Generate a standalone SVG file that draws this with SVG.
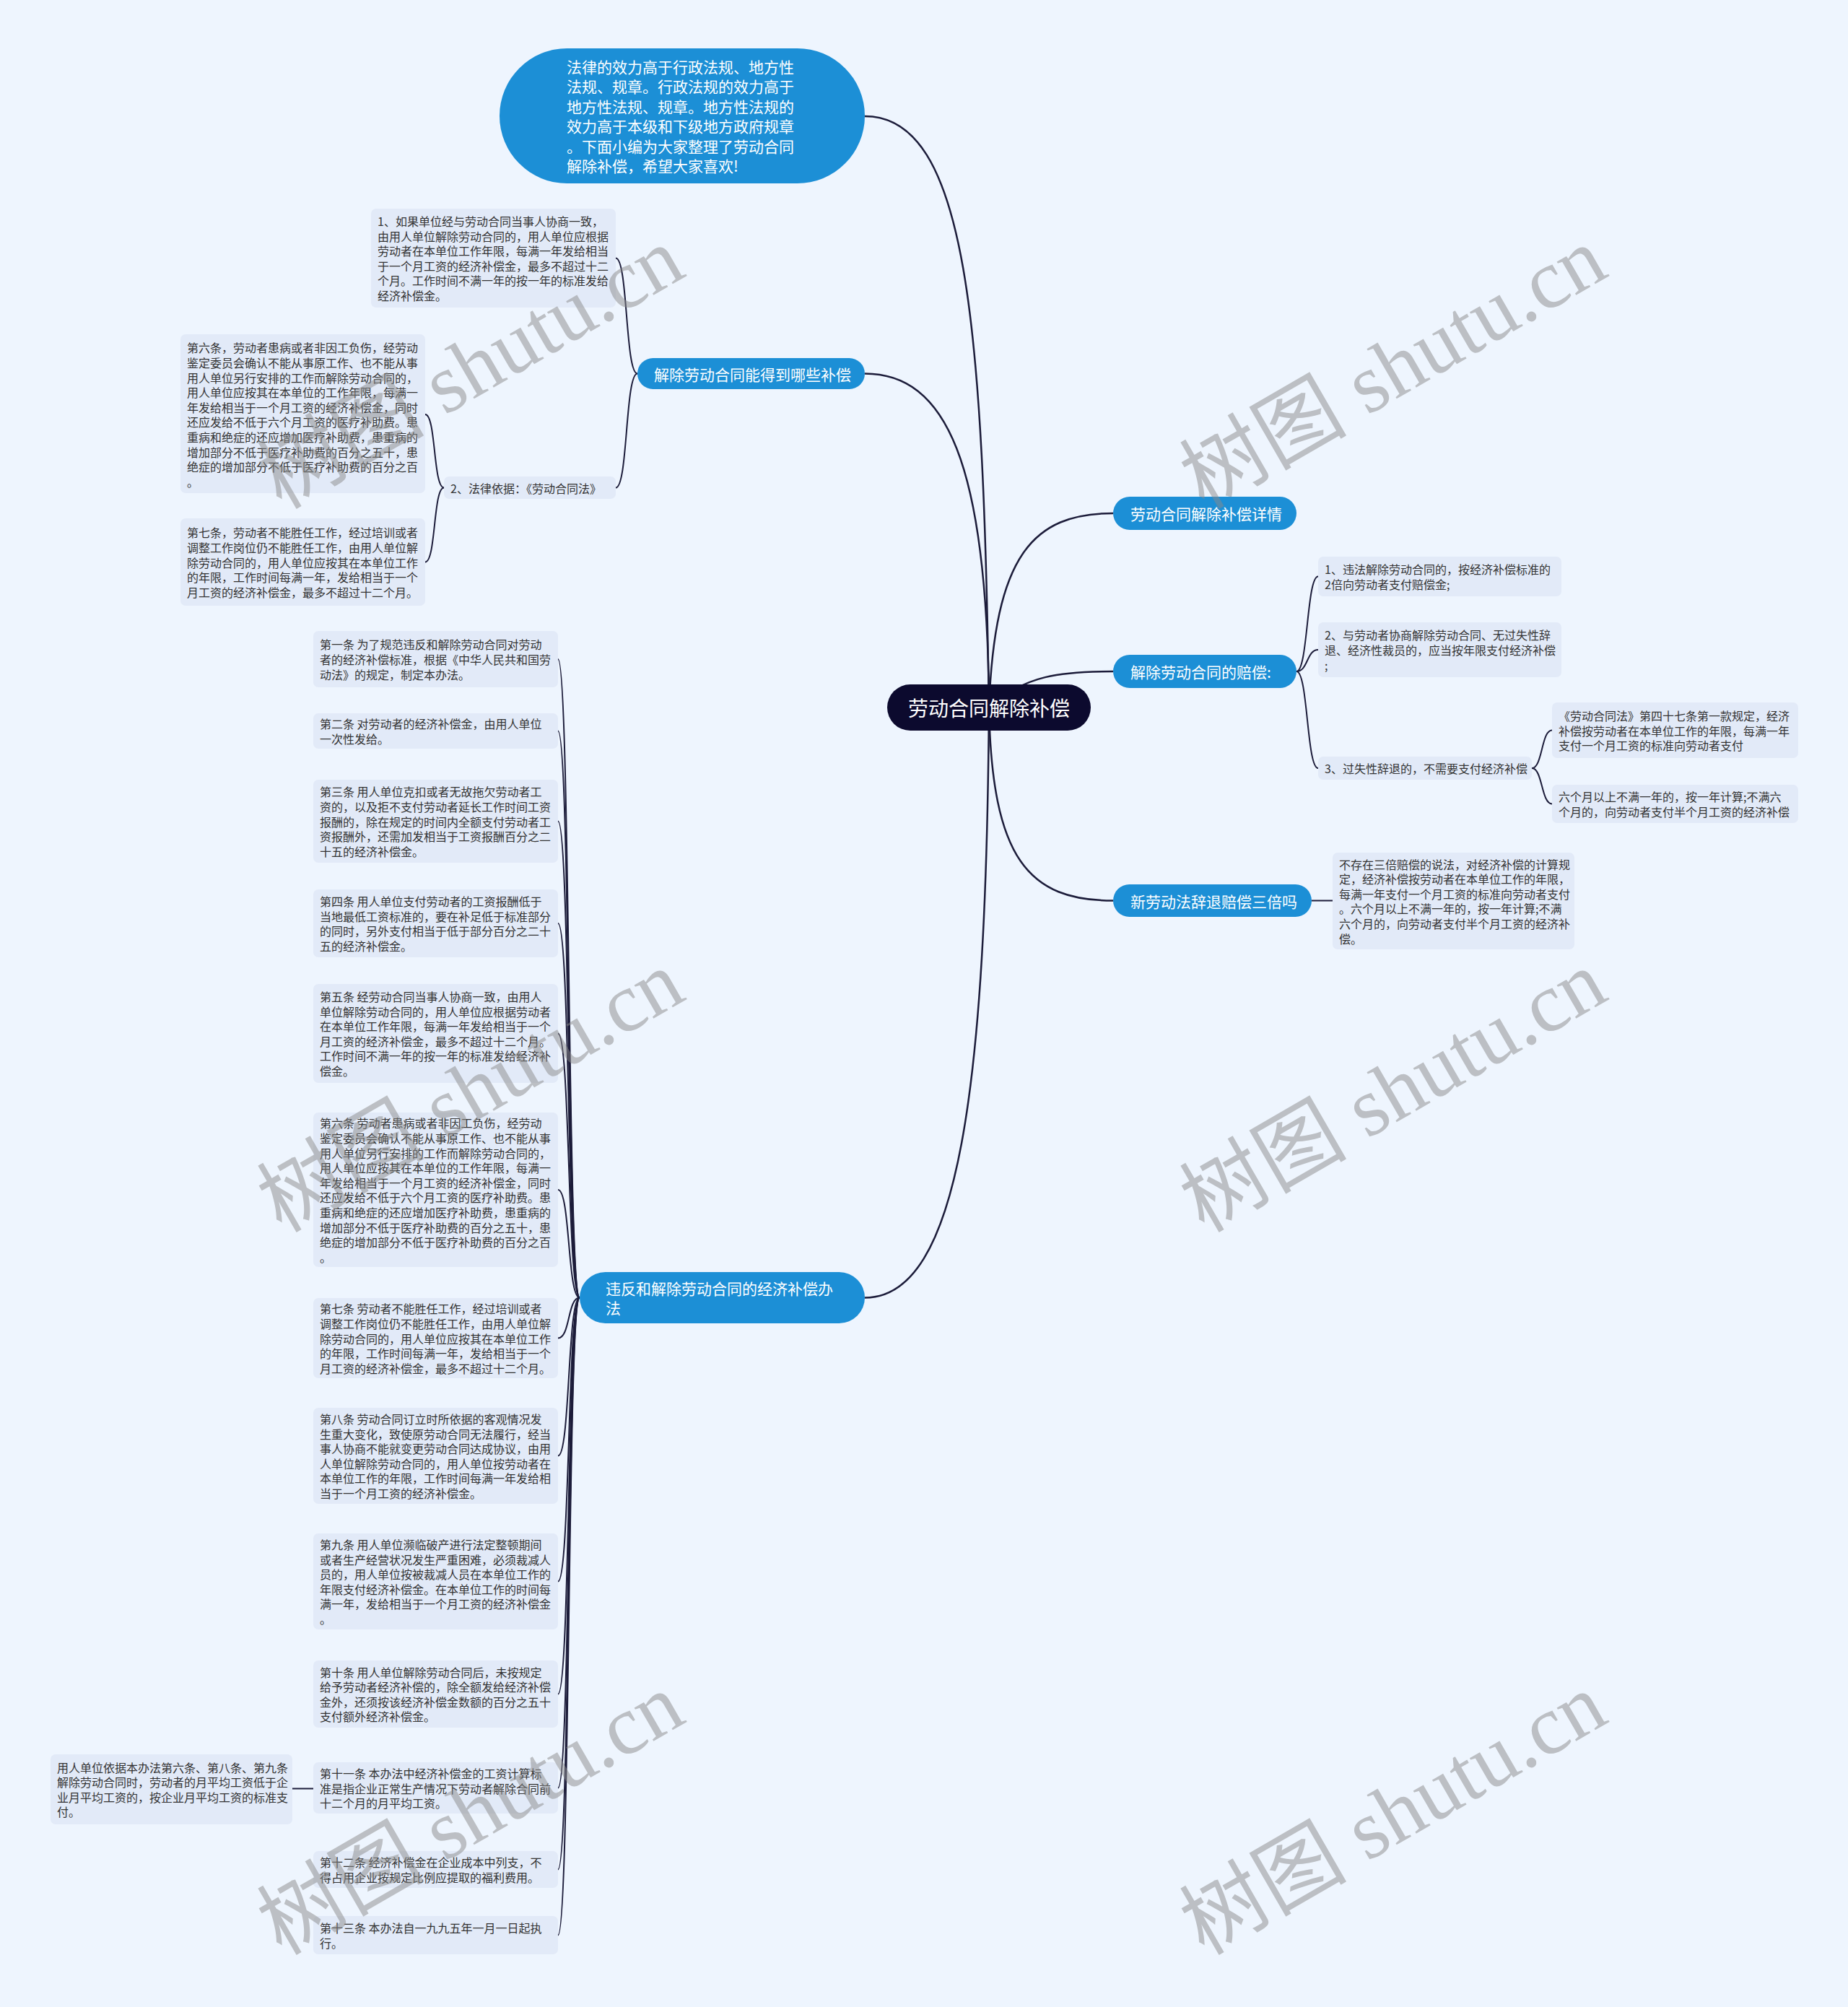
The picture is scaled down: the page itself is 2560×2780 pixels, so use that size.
<svg xmlns="http://www.w3.org/2000/svg" width="2560" height="2780" viewBox="0 0 2560 2780">
<style>
.bg{fill:#eef5fe}
.leaf{fill:#e2eaf8}
.lt{font-family:"Noto Sans CJK SC","Noto Sans",sans-serif;font-size:16px;fill:#333333;dominant-baseline:central}
.br{fill:#1c8fd6}
.bt{font-family:"Noto Sans CJK SC","Noto Sans",sans-serif;font-size:21px;fill:#ffffff;dominant-baseline:central}
.root{fill:#0c0a2e}
.rt{font-family:"Noto Sans CJK SC","Noto Sans",sans-serif;font-size:28px;fill:#ffffff;dominant-baseline:central;text-anchor:middle}
.c{fill:none;stroke:#1c1c3a;stroke-width:2}
.c2{fill:none;stroke:#1c1c3a;stroke-width:2.5}
.wm{font-family:"Liberation Serif","Noto Sans CJK SC",serif;font-size:116px;fill:#8a8a8a;fill-opacity:0.5;text-anchor:middle;dominant-baseline:central}
</style>
<rect class="bg" x="0" y="0" width="2560" height="2780"/>

<g id="connectors">
  <path class="c2" d="M1370 980 C1362 450,1340 161,1198 161"/>
  <path class="c2" d="M1370 980 C1368 640,1310 517.5,1198 517.5"/>
  <path class="c2" d="M1370 980 C1366 1500,1330 1797.5,1198 1797.5"/>
  <path class="c2" d="M1370 980 C1378 770,1430 711,1542 711"/>
  <path class="c2" d="M1370 980 C1420 935,1470 930,1542 930"/>
  <path class="c2" d="M1370 980 C1374 1190,1425 1247.5,1542 1247.5"/>

  <path class="c" d="M883 517.5 C866 517.5,870 357.5,853 357.5"/>
  <path class="c" d="M883 517.5 C866 517.5,870 675.5,853 675.5"/>
  <path class="c" d="M615 675.5 C600 675.5,604 574,589 574"/>
  <path class="c" d="M615 675.5 C600 675.5,604 778.5,589 778.5"/>

  <path class="c" d="M803 1797.5 C786 1797.5,790 913,773 913"/>
  <path class="c" d="M803 1797.5 C786 1797.5,790 1012.5,773 1012.5"/>
  <path class="c" d="M803 1797.5 C786 1797.5,790 1137.5,773 1137.5"/>
  <path class="c" d="M803 1797.5 C786 1797.5,790 1279,773 1279"/>
  <path class="c" d="M803 1797.5 C786 1797.5,790 1431.5,773 1431.5"/>
  <path class="c" d="M803 1797.5 C786 1797.5,790 1648,773 1648"/>
  <path class="c" d="M803 1797.5 C786 1797.5,790 1853.5,773 1853.5"/>
  <path class="c" d="M803 1797.5 C786 1797.5,790 2016.5,773 2016.5"/>
  <path class="c" d="M803 1797.5 C786 1797.5,790 2190.5,773 2190.5"/>
  <path class="c" d="M803 1797.5 C786 1797.5,790 2346.5,773 2346.5"/>
  <path class="c" d="M803 1797.5 C786 1797.5,790 2476.5,773 2476.5"/>
  <path class="c" d="M803 1797.5 C786 1797.5,790 2589.5,773 2589.5"/>
  <path class="c" d="M803 1797.5 C786 1797.5,790 2680.5,773 2680.5"/>
  <path class="c" d="M434 2477.5 L405 2477.5"/>

  <path class="c" d="M1796 930 C1812 930,1810 798.5,1826 798.5"/>
  <path class="c" d="M1796 930 C1812 930,1810 900,1826 900"/>
  <path class="c" d="M1796 930 C1812 930,1810 1064,1826 1064"/>
  <path class="c" d="M2122 1064 C2137 1064,2135 1011.5,2150 1011.5"/>
  <path class="c" d="M2122 1064 C2137 1064,2135 1113.5,2150 1113.5"/>
  <path class="c" d="M1817 1247.5 L1846 1247.5"/>
</g>

<g id="root">
  <rect class="root" x="1229" y="948" width="282" height="64" rx="32"/>
  <text class="rt" x="1370" y="980">劳动合同解除补偿</text>
</g>

<g id="intro">
  <rect class="br" x="692" y="67" width="506" height="187" rx="93.5"/>
  <text class="bt" x="785" y="92"><tspan x="785">法律的效力高于行政法规、地方性</tspan><tspan x="785" dy="27.4">法规、规章。行政法规的效力高于</tspan><tspan x="785" dy="27.4">地方性法规、规章。地方性法规的</tspan><tspan x="785" dy="27.4">效力高于本级和下级地方政府规章</tspan><tspan x="785" dy="27.4">。下面小编为大家整理了劳动合同</tspan><tspan x="785" dy="27.4">解除补偿，希望大家喜欢!</tspan></text>
</g>

<g id="b-left1">
  <rect class="br" x="883" y="496" width="315" height="43" rx="21.5"/>
  <text class="bt" x="906" y="517.5">解除劳动合同能得到哪些补偿</text>
</g>
<g id="l1-item1">
  <rect class="leaf" x="514" y="289" width="339" height="137" rx="7"/>
  <text class="lt" x="523" y="306"><tspan x="523">1、如果单位经与劳动合同当事人协商一致，</tspan><tspan x="523" dy="20.6">由用人单位解除劳动合同的，用人单位应根据</tspan><tspan x="523" dy="20.6">劳动者在本单位工作年限，每满一年发给相当</tspan><tspan x="523" dy="20.6">于一个月工资的经济补偿金，最多不超过十二</tspan><tspan x="523" dy="20.6">个月。工作时间不满一年的按一年的标准发给</tspan><tspan x="523" dy="20.6">经济补偿金。</tspan></text>
</g>
<g id="l1-item2">
  <rect class="leaf" x="615" y="660" width="238" height="31" rx="7"/>
  <text class="lt" x="624" y="675.5">2、法律依据：《劳动合同法》</text>
</g>
<g id="l1-art6">
  <rect class="leaf" x="250" y="463" width="339" height="220" rx="7"/>
  <text class="lt" x="259" y="481.3"><tspan x="259">第六条，劳动者患病或者非因工负伤，经劳动</tspan><tspan x="259" dy="20.6">鉴定委员会确认不能从事原工作、也不能从事</tspan><tspan x="259" dy="20.6">用人单位另行安排的工作而解除劳动合同的，</tspan><tspan x="259" dy="20.6">用人单位应按其在本单位的工作年限，每满一</tspan><tspan x="259" dy="20.6">年发给相当于一个月工资的经济补偿金，同时</tspan><tspan x="259" dy="20.6">还应发给不低于六个月工资的医疗补助费。患</tspan><tspan x="259" dy="20.6">重病和绝症的还应增加医疗补助费，患重病的</tspan><tspan x="259" dy="20.6">增加部分不低于医疗补助费的百分之五十，患</tspan><tspan x="259" dy="20.6">绝症的增加部分不低于医疗补助费的百分之百</tspan><tspan x="259" dy="20.6">。</tspan></text>
</g>
<g id="l1-art7">
  <rect class="leaf" x="250" y="718" width="339" height="121" rx="7"/>
  <text class="lt" x="259" y="737.3"><tspan x="259">第七条，劳动者不能胜任工作，经过培训或者</tspan><tspan x="259" dy="20.6">调整工作岗位仍不能胜任工作，由用人单位解</tspan><tspan x="259" dy="20.6">除劳动合同的，用人单位应按其在本单位工作</tspan><tspan x="259" dy="20.6">的年限，工作时间每满一年，发给相当于一个</tspan><tspan x="259" dy="20.6">月工资的经济补偿金，最多不超过十二个月。</tspan></text>
</g>

<g id="b-left2">
  <rect class="br" x="803" y="1762" width="395" height="71" rx="35.5"/>
  <text class="bt" x="839" y="1784"><tspan x="839">违反和解除劳动合同的经济补偿办</tspan><tspan x="839" dy="27">法</tspan></text>
</g>
<g id="a1">
  <rect class="leaf" x="434" y="874" width="339" height="78" rx="7"/>
  <text class="lt" x="443" y="892.4"><tspan x="443">第一条 为了规范违反和解除劳动合同对劳动</tspan><tspan x="443" dy="20.6">者的经济补偿标准，根据《中华人民共和国劳</tspan><tspan x="443" dy="20.6">动法》的规定，制定本办法。</tspan></text>
</g>
<g id="a2">
  <rect class="leaf" x="434" y="988" width="339" height="49" rx="7"/>
  <text class="lt" x="443" y="1002.2"><tspan x="443">第二条 对劳动者的经济补偿金，由用人单位</tspan><tspan x="443" dy="20.6">一次性发给。</tspan></text>
</g>
<g id="a3">
  <rect class="leaf" x="434" y="1080" width="339" height="115" rx="7"/>
  <text class="lt" x="443" y="1096.3"><tspan x="443">第三条 用人单位克扣或者无故拖欠劳动者工</tspan><tspan x="443" dy="20.6">资的，以及拒不支付劳动者延长工作时间工资</tspan><tspan x="443" dy="20.6">报酬的，除在规定的时间内全额支付劳动者工</tspan><tspan x="443" dy="20.6">资报酬外，还需加发相当于工资报酬百分之二</tspan><tspan x="443" dy="20.6">十五的经济补偿金。</tspan></text>
</g>
<g id="a4">
  <rect class="leaf" x="434" y="1232" width="339" height="94" rx="7"/>
  <text class="lt" x="443" y="1248.1"><tspan x="443">第四条 用人单位支付劳动者的工资报酬低于</tspan><tspan x="443" dy="20.6">当地最低工资标准的，要在补足低于标准部分</tspan><tspan x="443" dy="20.6">的同时，另外支付相当于低于部分百分之二十</tspan><tspan x="443" dy="20.6">五的经济补偿金。</tspan></text>
</g>
<g id="a5">
  <rect class="leaf" x="434" y="1363" width="339" height="137" rx="7"/>
  <text class="lt" x="443" y="1380"><tspan x="443">第五条 经劳动合同当事人协商一致，由用人</tspan><tspan x="443" dy="20.6">单位解除劳动合同的，用人单位应根据劳动者</tspan><tspan x="443" dy="20.6">在本单位工作年限，每满一年发给相当于一个</tspan><tspan x="443" dy="20.6">月工资的经济补偿金，最多不超过十二个月。</tspan><tspan x="443" dy="20.6">工作时间不满一年的按一年的标准发给经济补</tspan><tspan x="443" dy="20.6">偿金。</tspan></text>
</g>
<g id="a6">
  <rect class="leaf" x="434" y="1541" width="339" height="214" rx="7"/>
  <text class="lt" x="443" y="1555.3"><tspan x="443">第六条 劳动者患病或者非因工负伤，经劳动</tspan><tspan x="443" dy="20.6">鉴定委员会确认不能从事原工作、也不能从事</tspan><tspan x="443" dy="20.6">用人单位另行安排的工作而解除劳动合同的，</tspan><tspan x="443" dy="20.6">用人单位应按其在本单位的工作年限，每满一</tspan><tspan x="443" dy="20.6">年发给相当于一个月工资的经济补偿金，同时</tspan><tspan x="443" dy="20.6">还应发给不低于六个月工资的医疗补助费。患</tspan><tspan x="443" dy="20.6">重病和绝症的还应增加医疗补助费，患重病的</tspan><tspan x="443" dy="20.6">增加部分不低于医疗补助费的百分之五十，患</tspan><tspan x="443" dy="20.6">绝症的增加部分不低于医疗补助费的百分之百</tspan><tspan x="443" dy="20.6">。</tspan></text>
</g>
<g id="a7">
  <rect class="leaf" x="434" y="1798" width="339" height="111" rx="7"/>
  <text class="lt" x="443" y="1812.3"><tspan x="443">第七条 劳动者不能胜任工作，经过培训或者</tspan><tspan x="443" dy="20.6">调整工作岗位仍不能胜任工作，由用人单位解</tspan><tspan x="443" dy="20.6">除劳动合同的，用人单位应按其在本单位工作</tspan><tspan x="443" dy="20.6">的年限，工作时间每满一年，发给相当于一个</tspan><tspan x="443" dy="20.6">月工资的经济补偿金，最多不超过十二个月。</tspan></text>
</g>
<g id="a8">
  <rect class="leaf" x="434" y="1950" width="339" height="133" rx="7"/>
  <text class="lt" x="443" y="1965"><tspan x="443">第八条 劳动合同订立时所依据的客观情况发</tspan><tspan x="443" dy="20.6">生重大变化，致使原劳动合同无法履行，经当</tspan><tspan x="443" dy="20.6">事人协商不能就变更劳动合同达成协议，由用</tspan><tspan x="443" dy="20.6">人单位解除劳动合同的，用人单位按劳动者在</tspan><tspan x="443" dy="20.6">本单位工作的年限，工作时间每满一年发给相</tspan><tspan x="443" dy="20.6">当于一个月工资的经济补偿金。</tspan></text>
</g>
<g id="a9">
  <rect class="leaf" x="434" y="2124" width="339" height="133" rx="7"/>
  <text class="lt" x="443" y="2139"><tspan x="443">第九条 用人单位濒临破产进行法定整顿期间</tspan><tspan x="443" dy="20.6">或者生产经营状况发生严重困难，必须裁减人</tspan><tspan x="443" dy="20.6">员的，用人单位按被裁减人员在本单位工作的</tspan><tspan x="443" dy="20.6">年限支付经济补偿金。在本单位工作的时间每</tspan><tspan x="443" dy="20.6">满一年，发给相当于一个月工资的经济补偿金</tspan><tspan x="443" dy="20.6">。</tspan></text>
</g>
<g id="a10">
  <rect class="leaf" x="434" y="2300" width="339" height="93" rx="7"/>
  <text class="lt" x="443" y="2315.6"><tspan x="443">第十条 用人单位解除劳动合同后，未按规定</tspan><tspan x="443" dy="20.6">给予劳动者经济补偿的，除全额发给经济补偿</tspan><tspan x="443" dy="20.6">金外，还须按该经济补偿金数额的百分之五十</tspan><tspan x="443" dy="20.6">支付额外经济补偿金。</tspan></text>
</g>
<g id="a11">
  <rect class="leaf" x="434" y="2441" width="339" height="71" rx="7"/>
  <text class="lt" x="443" y="2455.9"><tspan x="443">第十一条 本办法中经济补偿金的工资计算标</tspan><tspan x="443" dy="20.6">准是指企业正常生产情况下劳动者解除合同前</tspan><tspan x="443" dy="20.6">十二个月的月平均工资。</tspan></text>
</g>
<g id="a11-note">
  <rect class="leaf" x="70" y="2430" width="335" height="97" rx="7"/>
  <text class="lt" x="79" y="2447.6"><tspan x="79">用人单位依据本办法第六条、第八条、第九条</tspan><tspan x="79" dy="20.6">解除劳动合同时，劳动者的月平均工资低于企</tspan><tspan x="79" dy="20.6">业月平均工资的，按企业月平均工资的标准支</tspan><tspan x="79" dy="20.6">付。</tspan></text>
</g>
<g id="a12">
  <rect class="leaf" x="434" y="2564" width="339" height="51" rx="7"/>
  <text class="lt" x="443" y="2579.2"><tspan x="443">第十二条 经济补偿金在企业成本中列支，不</tspan><tspan x="443" dy="20.6">得占用企业按规定比例应提取的福利费用。</tspan></text>
</g>
<g id="a13">
  <rect class="leaf" x="434" y="2654" width="339" height="53" rx="7"/>
  <text class="lt" x="443" y="2670.2"><tspan x="443">第十三条 本办法自一九九五年一月一日起执</tspan><tspan x="443" dy="20.6">行。</tspan></text>
</g>

<g id="b-right1">
  <rect class="br" x="1542" y="688" width="254" height="46" rx="23"/>
  <text class="bt" x="1566" y="711">劳动合同解除补偿详情</text>
</g>

<g id="b-right2">
  <rect class="br" x="1542" y="907" width="254" height="46" rx="23"/>
  <text class="bt" x="1566" y="930">解除劳动合同的赔偿:</text>
</g>
<g id="r1">
  <rect class="leaf" x="1826" y="771" width="337" height="55" rx="7"/>
  <text class="lt" x="1835" y="788.2"><tspan x="1835">1、违法解除劳动合同的，按经济补偿标准的</tspan><tspan x="1835" dy="20.6">2倍向劳动者支付赔偿金;</tspan></text>
</g>
<g id="r2">
  <rect class="leaf" x="1826" y="862" width="337" height="76" rx="7"/>
  <text class="lt" x="1835" y="879.4"><tspan x="1835">2、与劳动者协商解除劳动合同、无过失性辞</tspan><tspan x="1835" dy="20.6">退、经济性裁员的，应当按年限支付经济补偿</tspan><tspan x="1835" dy="20.6">;</tspan></text>
</g>
<g id="r3">
  <rect class="leaf" x="1826" y="1048" width="296" height="32" rx="7"/>
  <text class="lt" x="1835" y="1064">3、过失性辞退的，不需要支付经济补偿</text>
</g>
<g id="r3a">
  <rect class="leaf" x="2150" y="973" width="341" height="77" rx="7"/>
  <text class="lt" x="2159" y="990.9"><tspan x="2159">《劳动合同法》第四十七条第一款规定，经济</tspan><tspan x="2159" dy="20.6">补偿按劳动者在本单位工作的年限，每满一年</tspan><tspan x="2159" dy="20.6">支付一个月工资的标准向劳动者支付</tspan></text>
</g>
<g id="r3b">
  <rect class="leaf" x="2150" y="1087" width="341" height="53" rx="7"/>
  <text class="lt" x="2159" y="1103.2"><tspan x="2159">六个月以上不满一年的，按一年计算;不满六</tspan><tspan x="2159" dy="20.6">个月的，向劳动者支付半个月工资的经济补偿</tspan></text>
</g>

<g id="b-right3">
  <rect class="br" x="1542" y="1225" width="275" height="45" rx="22.5"/>
  <text class="bt" x="1566" y="1247.5">新劳动法辞退赔偿三倍吗</text>
</g>
<g id="r4">
  <rect class="leaf" x="1846" y="1181" width="335" height="134" rx="7"/>
  <text class="lt" x="1855" y="1196.5"><tspan x="1855">不存在三倍赔偿的说法，对经济补偿的计算规</tspan><tspan x="1855" dy="20.6">定，经济补偿按劳动者在本单位工作的年限，</tspan><tspan x="1855" dy="20.6">每满一年支付一个月工资的标准向劳动者支付</tspan><tspan x="1855" dy="20.6">。六个月以上不满一年的，按一年计算;不满</tspan><tspan x="1855" dy="20.6">六个月的，向劳动者支付半个月工资的经济补</tspan><tspan x="1855" dy="20.6">偿。</tspan></text>
</g>

<g id="watermarks">
  <text class="wm" transform="translate(652,510) rotate(-30)">树图 shutu.cn</text>
  <text class="wm" transform="translate(1930,510) rotate(-30)">树图 shutu.cn</text>
  <text class="wm" transform="translate(652,1512) rotate(-30)">树图 shutu.cn</text>
  <text class="wm" transform="translate(1930,1512) rotate(-30)">树图 shutu.cn</text>
  <text class="wm" transform="translate(652,2513) rotate(-30)">树图 shutu.cn</text>
  <text class="wm" transform="translate(1930,2513) rotate(-30)">树图 shutu.cn</text>
</g>
</svg>
